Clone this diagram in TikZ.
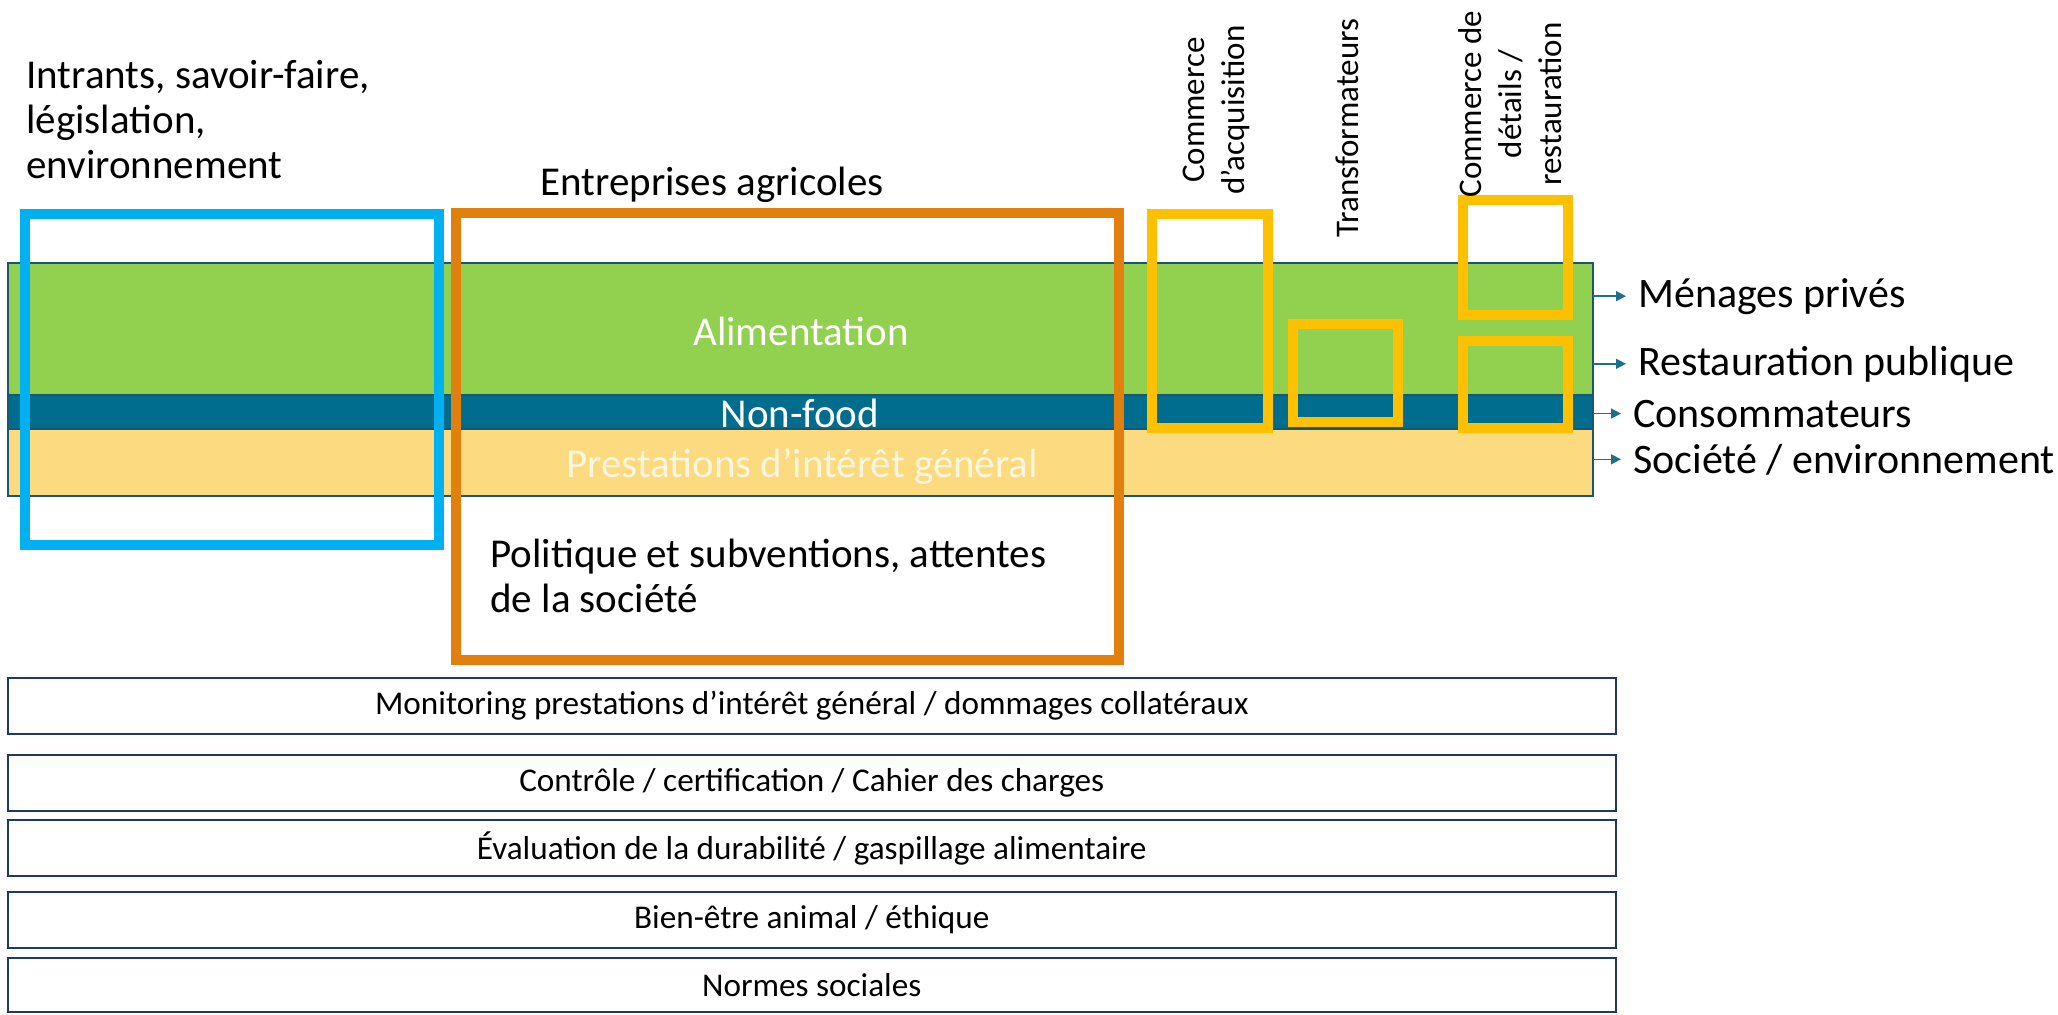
\documentclass[tikz,border=0pt]{standalone}
\usepackage{fontspec}
\setmainfont{Carlito}
\usetikzlibrary{arrows.meta}

\definecolor{alimgreen}{RGB}{146,208,80}
\definecolor{nonfoodblue}{RGB}{0,108,142}
\definecolor{prestyellow}{RGB}{252,218,128}
\definecolor{bandedge}{RGB}{23,88,110}
\definecolor{prestext}{RGB}{255,246,222}
\definecolor{inputblue}{RGB}{0,176,240}
\definecolor{farmorange}{RGB}{226,128,14}
\definecolor{tradeyellow}{RGB}{255,192,0}
\definecolor{layernavy}{RGB}{31,56,100}
\definecolor{arrowteal}{RGB}{31,110,140}

\begin{document}
\begin{tikzpicture}[x=0.5pt,y=-0.5pt,
  bigtext/.style={font=\fontsize{20.5}{22.5}\selectfont, align=left, inner sep=0, anchor=base west},
  bandtext/.style={font=\fontsize{20.5}{24}\selectfont, inner sep=0, anchor=base},
  outtext/.style={font=\fontsize{21}{25}\selectfont, anchor=base west, inner xsep=6pt, inner ysep=0},
  chaintext/.style={font=\fontsize{16.5}{20}\selectfont, rotate=90, align=center, inner sep=0},
  layerbox/.style={draw=layernavy, line width=1pt, minimum width=804.25pt, minimum height=28pt, inner sep=0, font=\fontsize{16.6}{19}\selectfont},
  actorbox/.style={line width=5pt},
  flow/.style={draw=arrowteal, line width=0.7pt, -{Triangle[length=5pt,width=5pt]}}]

\useasboundingbox (0,0) rectangle (2058,1014);

% the three product bands
\fill[alimgreen] (8,263) rectangle (1593,395);
\fill[nonfoodblue] (8,395) rectangle (1593,429);
\fill[prestyellow] (8,429) rectangle (1593,496);
\draw[bandedge, line width=0.75pt] (8,263) rectangle (1593,496) (8,395) -- (1593,395) (8,429) -- (1593,429);
\coordinate (bandright) at (1593,0);

\node[bandtext, text=white] (alim) at (801,345) {Alimentation};
\node[bandtext, text=white] (nonfood) at (800,427) {Non-food};
\node[bandtext, text=prestext] (prest) at (802,477) {Prestations d’intérêt général};

% actors along the chain (base = last line)
\draw[actorbox, inputblue] (25,214) rectangle (439,545);
\node[bigtext] (inputs) at (26,178) {Intrants, savoir-faire,\\législation,\\environnement};

\draw[actorbox, farmorange] (456,213) rectangle (1119,660);
\node[bigtext] (farms) at (540,195) {Entreprises agricoles};
\node[bigtext] (policy) at (490,612) {Politique et subventions, attentes\\de la société};

\draw[actorbox, tradeyellow] (1152,214) rectangle (1268,428);
\draw[actorbox, tradeyellow] (1293,324) rectangle (1398,422);
\draw[actorbox, tradeyellow] (1463,200) rectangle (1568,315);
\draw[actorbox, tradeyellow] (1463,341) rectangle (1568,428);
\node[chaintext] (trade) at (1216,110) {Commerce\\d’acquisition};
\node[chaintext] (proc) at (1347,128) {Transformateurs};
\node[chaintext] (retail) at (1510,104) {Commerce de\\détails /\\restauration};

% outlets
\node[outtext] (menages) at (1626,307) {Ménages privés};
\node[outtext] (resto) at (1626,375) {Restauration publique};
\node[outtext] (conso) at (1621,427) {Consommateurs};
\node[outtext] (societe) at (1621,473) {Société / environnement};
\foreach \o in {menages,resto,conso,societe}
  \draw[flow] (\o.west -| bandright) -- (\o.west);

% cross-cutting layers
\node[layerbox] (monitor) at (811.75,705.5) {Monitoring prestations d’intérêt général / dommages collatéraux};
\node[layerbox] (control) at (811.75,783) {Contrôle / certification / Cahier des charges};
\node[layerbox] (evalu) at (811.75,848) {Évaluation de la durabilité / gaspillage alimentaire};
\node[layerbox] (animal) at (811.75,920) {Bien-être animal / éthique};
\node[layerbox, minimum height=27pt] (normes) at (811.75,985) {Normes sociales};
\end{tikzpicture}
\end{document}
